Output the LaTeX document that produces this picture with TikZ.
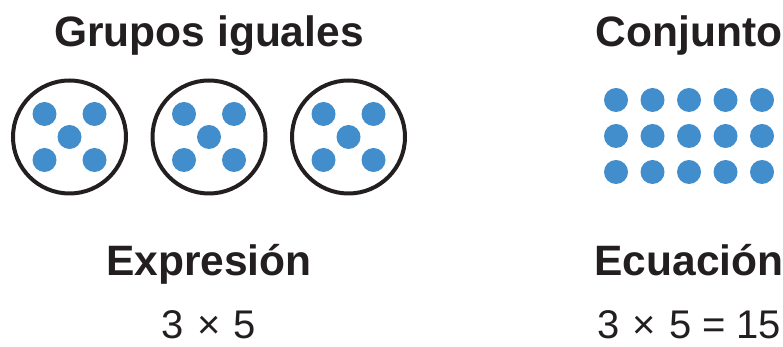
\documentclass[tikz,border=0pt]{standalone}
\usepackage{fontspec}
\setmainfont{Liberation Sans}
\usepackage{xcolor}
\usetikzlibrary{calc}
\definecolor{dotblue}{RGB}{66,142,204}
\definecolor{inkgray}{RGB}{35,31,32}

\begin{document}
\begin{tikzpicture}[x=1pt,y=1pt,
    grp/.style={circle, draw=inkgray, line width=4pt, minimum size=113pt, inner sep=0pt},
    dot/.style={circle, fill=dotblue, minimum size=24pt, inner sep=0pt},
    title/.style={anchor=base, text=inkgray, font=\fontsize{42.5}{48}\selectfont\bfseries},
    eqn/.style={anchor=base, text=inkgray, font=\fontsize{40}{46}\selectfont}]
\useasboundingbox (0,0) rectangle (783,347);

% Three equal groups of five
\foreach \i/\cx in {1/69.5,2/209,3/348.5} {
    \node[grp] (g\i) at (\cx,210) {};
    \foreach \dx/\dy [count=\j] in {-25/23,25/23,0/0,-25/-23,25/-23}
        \node[dot] (g\i d\j) at ($(g\i)+(\dx,\dy)$) {};
}

% Array: three rows of five
\foreach \r/\ry in {1/247,2/211,3/175} {
    \foreach \c in {1,...,5}
        \node[dot] (a\r\c) at ({616+36.5*(\c-1)},\ry) {};
}

% Labels
\node[title] (tgrp) at (209,300) {Grupos iguales};
\node[title] (tarr) at (689,300) {Conjunto};
\node[title] (texp) at (209,71) {Expresión};
\node[title] (tequ) at (689,71) {Ecuación};
\node[eqn] (exp) at (209,8) {3\,\,×\,\,5};
\node[eqn] (equ) at (689,8) {3\,\,×\,\,5\hspace{0.26em}=\hspace{0.26em}15};
\end{tikzpicture}
\end{document}
